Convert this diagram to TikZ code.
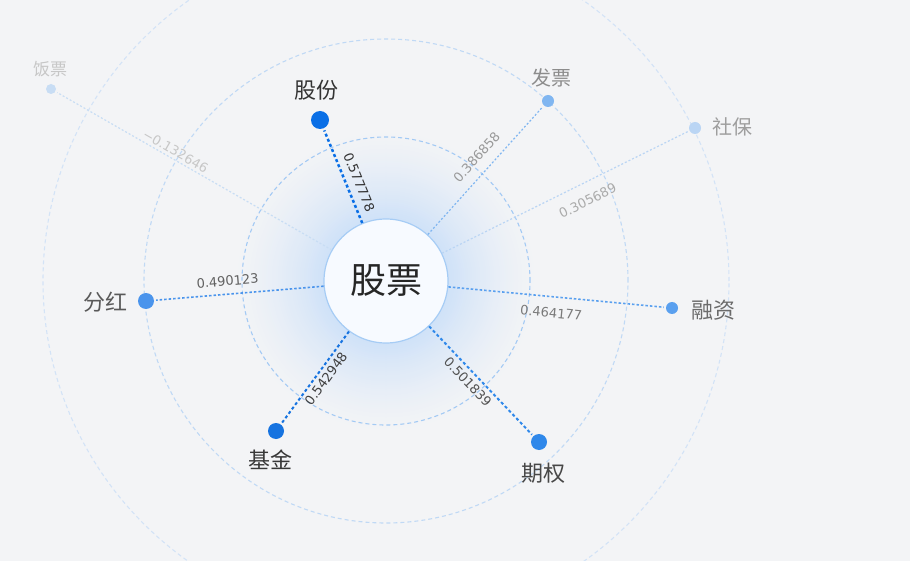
\documentclass[tikz,border=0pt]{standalone}
\usepackage{fontspec}
\setmainfont{Liberation Sans}
\newfontfamily\cjk{Noto Sans CJK SC}
\newfontfamily\numf{DejaVu Sans}
\definecolor{bgc}{HTML}{F3F4F6}
\definecolor{glowc}{HTML}{D0E2F8}
\definecolor{ring1}{HTML}{A3CAF4}
\definecolor{ring2}{HTML}{C0D9F5}
\definecolor{ring3}{HTML}{D3E3F6}
\definecolor{cfill}{HTML}{F7FAFF}
\definecolor{cdraw}{HTML}{A6CCF5}
\definecolor{bA}{HTML}{0A6FE6}
\definecolor{bB}{HTML}{1673E0}
\definecolor{bC}{HTML}{2F88EA}
\definecolor{bD}{HTML}{4A94EC}
\definecolor{bE}{HTML}{5AA0EF}
\definecolor{bF}{HTML}{80B6F1}
\definecolor{bG}{HTML}{BAD5F4}
\definecolor{bH}{HTML}{C8DDF4}
\tikzset{
  ringline/.style={line width=1.1pt, dash pattern=on 4pt off 3pt},
  dotnode/.style={circle, inner sep=0pt, minimum size=#1},
  cjklabel/.style={inner sep=0pt, font=\cjk\fontsize{#1}{#1}\selectfont},
  numlabel/.style={inner sep=0pt, sloped, font=\numf\fontsize{13}{13}\selectfont},
  edgeA/.style={line width=2.5pt, dash pattern=on 3pt off 2.5pt, shorten >=2pt},
  edgeB/.style={line width=2pt, dash pattern=on 3pt off 2.5pt, shorten >=2pt},
  edgeC/.style={line width=1.6pt, dash pattern=on 2.5pt off 2pt, shorten >=2pt},
  edgeD/.style={line width=1.2pt, dash pattern=on 2pt off 2pt, shorten >=2pt},
}
\begin{document}
\begin{tikzpicture}[x=1pt,y=-1pt]
\fill[bgc] (0,0) rectangle (910,561);
\useasboundingbox (0,0) rectangle (910,561);
% glow
\foreach \r in {156,154,...,64}{
  \pgfmathsetmacro\p{100*((156-\r)/92)^1.5}
  \fill[glowc!\p!bgc] (386,281) circle[radius=\r pt];
}
% rings
\draw[ringline, ring1] (386,281) circle[radius=144pt];
\draw[ringline, ring2] (386,281) circle[radius=242pt];
\draw[ringline, ring3] (386,281) circle[radius=343pt];
% centre
\node[circle, minimum size=124pt, inner sep=0pt, fill=cfill, draw=cdraw, line width=1.2pt,
      font=\cjk\fontsize{36}{36}\selectfont, text=black!85] (c) at (386,281) {股票};
% dots
\node[dotnode=18pt, fill=bA] (gf) at (320,120) {};
\node[dotnode=12pt, fill=bF] (fp) at (548,101) {};
\node[dotnode=12pt, fill=bG] (sb) at (695,128) {};
\node[dotnode=10pt, fill=bH] (fan) at (51,89) {};
\node[dotnode=16pt, fill=bD] (fh) at (146,301) {};
\node[dotnode=12pt, fill=bE] (rz) at (672,308) {};
\node[dotnode=16pt, fill=bB] (jj) at (276,431) {};
\node[dotnode=16pt, fill=bC] (qq) at (539,442) {};
% labels
\node[cjklabel=22, text=black!80] (tgf) at (316,90) {股份};
\node[cjklabel=20, text=black!45] (tfp) at (551,78) {发票};
\node[cjklabel=20, text=black!38] (tsb) at (732,127) {社保};
\node[cjklabel=17, text=black!22] (tfan) at (50,69) {饭票};
\node[cjklabel=22, text=black!65] (tfh) at (105,302) {分红};
\node[cjklabel=22, text=black!58] (trz) at (713,310) {融资};
\node[cjklabel=22, text=black!78] (tjj) at (270,460) {基金};
\node[cjklabel=22, text=black!72] (tqq) at (543,473) {期权};
% edges
\draw[edgeA, bA] (c) -- (gf) node[numlabel, pos=0.38, above=6.5pt, text=black!80] (lgf) {0.577778};
\draw[edgeD, bF] (c) -- (fp) node[numlabel, pos=0.52, above=10pt, text=black!40] (lfp) {0.386858};
\draw[edgeD, bG] (c) -- (sb) node[numlabel, pos=0.557, below=12pt, text=black!33] (lsb) {0.305689};
\draw[edgeD, bH] (c) -- (fan) node[numlabel, pos=0.58, above=2.5pt, text=black!22] (lfan) {−0.132646};
\draw[edgeC, bD] (c) -- (fh) node[numlabel, pos=0.56, above=7.5pt, text=black!62] (lfh) {0.490123};
\draw[edgeC, bE] (c) -- (rz) node[numlabel, pos=0.48, below=10.5pt, text=black!52] (lrz) {0.464177};
\draw[edgeB, bB] (c) -- (jj) node[numlabel, pos=0.45, below=3.5pt, text=black!75] (ljj) {0.542948};
\draw[edgeB, bC] (c) -- (qq) node[numlabel, pos=0.44, below=4pt, text=black!68] (lqq) {0.501839};
\end{tikzpicture}
\end{document}
